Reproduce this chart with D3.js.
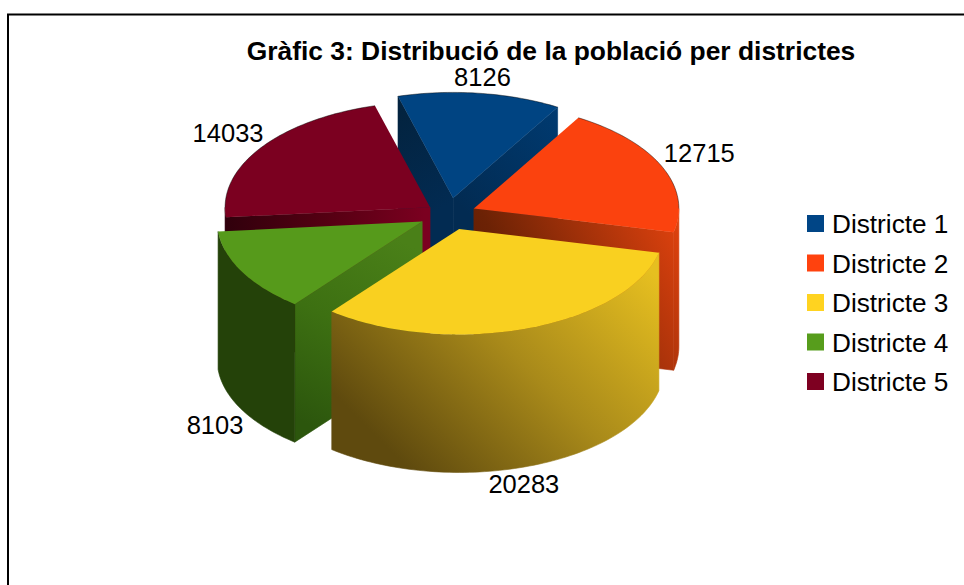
<!DOCTYPE html>
<html>
<head>
<meta charset="utf-8">
<script src="https://cdn.jsdelivr.net/npm/d3@7"></script>
<style>
  html, body { margin: 0; padding: 0; background: #fff; }
  svg { display: block; }
  text { font-family: "Liberation Sans", sans-serif; fill: #000; }
</style>
</head>
<body>
<svg id="chart" width="964" height="585"></svg>
<script>
var titleText = "Gràfic 3: Distribució de la població per districtes";
var districts = ["Districte 1", "Districte 2", "Districte 3", "Districte 4", "Districte 5"];
var population = [8126, 12715, 20283, 8103, 14033];
var legendColors = ["#004586", "#ff420e", "#ffd320", "#579d1c", "#7e0021"];
var topColors = ["#004482", "#fb420e", "#f9d020", "#569a1b", "#7b0020"];
var explodeBySlice = [0.154, 0.132, 0.15, 0.149, 0.112];

// set the dimensions of the pie
var width = 964,
    height = 585,
    cx = 449,
    cy = 214,
    rx = 205,
    ry = 105.5,
    depth = 138,
    startAngle = -15.6 * Math.PI / 180;

var svg = d3.select("#chart");
var defs = svg.append("defs");

// frame, only the top and left sides show in the picture
svg.append("path")
    .attr("d", d3.line()([[width, 14.5], [8, 14.5], [8, height]]))
    .attr("fill", "none")
    .attr("stroke", "#000")
    .attr("stroke-width", 2);

var xScale = d3.scaleLinear().domain([-1, 1]).range([cx - rx, cx + rx]);
var yScale = d3.scaleLinear().domain([-1, 1]).range([cy + ry, cy - ry]);

var slices = d3.pie()
    .sort(null)
    .startAngle(startAngle)
    .endAngle(startAngle + 2 * Math.PI)(population);

// point on the rim, u = 0 is the centre and 1 the rim
function rim(angle, u, s, drop) {
  var mid = (s.startAngle + s.endAngle) / 2;
  var explode = explodeBySlice[s.index];
  return [
    xScale(u * Math.sin(angle) + explode * Math.sin(mid)),
    yScale(u * Math.cos(angle) + explode * Math.cos(mid)) + (drop || 0)
  ];
}

function arcPoints(a0, a1, s, drop) {
  var n = Math.max(2, Math.ceil(Math.abs(a1 - a0) * 40));
  return d3.range(n + 1).map(function(i) {
    return rim(a0 + (a1 - a0) * i / n, 1, s, drop);
  });
}

var line = d3.line();

function topPath(s) {
  return line([rim(0, 0, s)].concat(arcPoints(s.startAngle, s.endAngle, s))) + "Z";
}

function wallPath(angle, s) {
  return line([rim(angle, 0, s), rim(angle, 1, s), rim(angle, 1, s, depth), rim(angle, 0, s, depth)]) + "Z";
}

function outerPath(a0, a1, s) {
  return line(arcPoints(a0, a1, s).concat(arcPoints(a1, a0, s, depth))) + "Z";
}

function gradient(id, x1, y1, x2, y2, stops) {
  var g = defs.append("linearGradient")
      .attr("id", id)
      .attr("gradientUnits", "userSpaceOnUse")
      .attr("x1", x1).attr("y1", y1)
      .attr("x2", x2).attr("y2", y2);
  stops.forEach(function(st) {
    g.append("stop").attr("offset", st[0]).attr("stop-color", st[1]);
  });
  return "url(#" + id + ")";
}

var fillBlueL = gradient("blueL", 400, 110, 455, 200, [[0, "#03233f"], [1, "#022b52"]]);
var fillBlueR = gradient("blueR", 455, 200, 557, 110, [[0, "#022b52"], [1, "#003a70"]]);
var fillOrange = gradient("orangeW", 680, 220, 480, 320, [[0, "#e0420e"], [0.78, "#6c2205"], [1, "#601c04"]]);
var fillYellow = gradient("yellowW", 640, 260, 420, 480, [[0, "#e6bf20"], [0.5, "#a98a1a"], [1, "#5f4a0e"]]);
var fillGreen = gradient("greenW", 400, 240, 300, 420, [[0, "#4a8018"], [0.5, "#3d7012"], [1, "#2c560d"]]);
var fillMaroon = gradient("maroonW", 225, 0, 425, 0, [[0, "#30000c"], [0.5, "#540012"], [1, "#7b0020"]]);

// back to front, one group per slice
var order = [0, 4, 1, 3, 2];
var wallDefs = {
  0: [[0, fillBlueL], [1, fillBlueR]],
  4: [[0, fillMaroon]],
  1: [[1, fillOrange]],
  3: [[0, fillGreen]],
  2: []
};
var outerFill = { 1: fillOrange, 2: fillYellow, 3: "#244209", 4: fillMaroon };

order.forEach(function(i) {
  var s = slices[i];
  var g = svg.append("g").attr("class", "slice");
  wallDefs[i].forEach(function(w) {
    var angle = w[0] == 0 ? s.startAngle : s.endAngle;
    g.append("path").attr("d", wallPath(angle, s))
        .attr("fill", w[1]).attr("stroke", w[1]).attr("stroke-width", 0.6);
  });
  if (outerFill[i]) {
    var a0 = Math.max(s.startAngle, Math.PI / 2);
    var a1 = Math.min(s.endAngle, 3 * Math.PI / 2);
    g.append("path").attr("d", outerPath(a0, a1, s))
        .attr("fill", outerFill[i]).attr("stroke", outerFill[i]).attr("stroke-width", 0.6);
  }
  g.append("path").attr("d", topPath(s)).attr("fill", topColors[i]);
  // thin dark edge on the back of the rim
  var wrap = i == 4 ? 2 * Math.PI : 0;
  var b0 = Math.max(s.startAngle, wrap - Math.PI / 2);
  var b1 = Math.min(s.endAngle, wrap + Math.PI / 2);
  if (b1 > b0) {
    g.append("path").attr("d", line(arcPoints(b0, b1, s)))
        .attr("fill", "none")
        .attr("stroke", "#000")
        .attr("stroke-opacity", 0.55)
        .attr("stroke-width", 0.8);
  }
});

svg.append("text")
    .attr("x", 551)
    .attr("y", 60)
    .attr("text-anchor", "middle")
    .attr("font-size", 26.4)
    .attr("font-weight", "bold")
    .text(titleText);

// value labels, placed by hand next to their slices
var labelNudge = [[2.5, -7], [37, -5], [-33, -6], [-27, 162], [-3, 164]];
var labelOrder = [0, 1, 4, 3, 2];
labelOrder.forEach(function(i, k) {
  var s = slices[i];
  var mid = (s.startAngle + s.endAngle) / 2;
  var p = rim(mid, 1, s);
  svg.append("text")
      .attr("x", p[0] + labelNudge[k][0])
      .attr("y", p[1] + labelNudge[k][1])
      .attr("text-anchor", "middle")
      .attr("font-size", 25.5)
      .text(population[i]);
});

// legend
var legendY = d3.scalePoint().domain(districts).range([224, 382]);
var legend = svg.selectAll(".legend")
    .data(districts)
    .enter()
    .append("g")
    .attr("class", "legend")
    .attr("transform", function(d) { return "translate(807," + legendY(d) + ")"; });

legend.append("rect")
    .attr("x", 0)
    .attr("y", -9)
    .attr("width", 17)
    .attr("height", 17)
    .attr("fill", function(d, i) { return legendColors[i]; });

legend.append("text")
    .attr("x", 25)
    .attr("y", 9)
    .attr("font-size", 26.2)
    .text(function(d) { return d; });
</script>
</body>
</html>
